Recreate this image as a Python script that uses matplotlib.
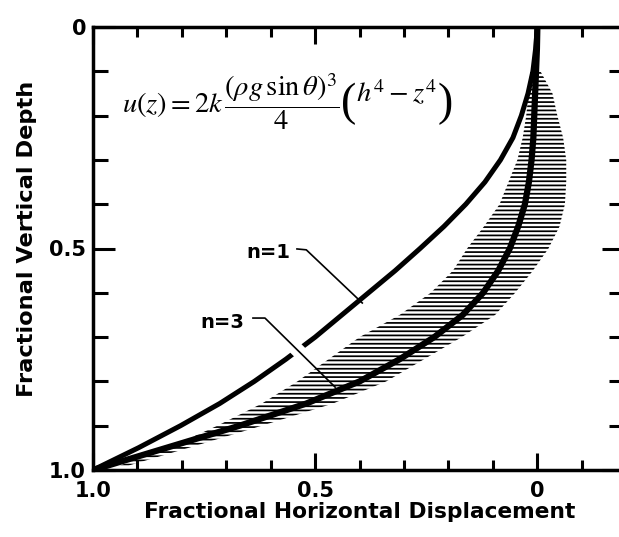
import numpy as np
import matplotlib
matplotlib.use('Agg')
import matplotlib.pyplot as plt
import matplotlib.patheffects as pe

### Velocity profiles of a glacier: fractional displacement against depth
### for flow-law exponents n=1 and n=3, with the spread of measurements hatched.

# n = 1 profile (depth, displacement)
depth_n1 = [0, 0.05, 0.10, 0.15, 0.20, 0.25, 0.30, 0.35, 0.40, 0.45, 0.50,
            0.55, 0.60, 0.65, 0.70, 0.75, 0.80, 0.85, 0.90, 0.95, 1.0]
disp_n1 = [0, 0.004, 0.010, 0.021, 0.036, 0.055, 0.083, 0.118, 0.161, 0.21, 0.264,
           0.32, 0.38, 0.44, 0.50, 0.566, 0.637, 0.715, 0.803, 0.898, 1.0]

# n = 3 profile
depth_n3 = [0, 0.05, 0.10, 0.15, 0.20, 0.25, 0.30, 0.35, 0.40, 0.45, 0.50,
            0.55, 0.60, 0.65, 0.70, 0.75, 0.80, 0.85, 0.90, 0.95, 1.0]
disp_n3 = [0, 0.001, 0.003, 0.005, 0.007, 0.009, 0.013, 0.019, 0.028, 0.043, 0.062,
           0.088, 0.122, 0.168, 0.232, 0.31, 0.40, 0.52, 0.67, 0.835, 1.0]

# measured spread around the n = 3 curve
band_depth = [0.10, 0.15, 0.20, 0.25, 0.30, 0.35, 0.40, 0.45, 0.50, 0.55,
              0.60, 0.65, 0.70, 0.75, 0.80, 0.85, 0.90, 0.95, 0.99]
band_inner = [0.016, 0.02, 0.025, 0.033, 0.045, 0.065, 0.085, 0.12, 0.158, 0.19,
              0.24, 0.31, 0.40, 0.47, 0.54, 0.62, 0.72, 0.83, 0.94]
band_outer = [-0.007, -0.034, -0.045, -0.058, -0.065, -0.065, -0.062, -0.05, -0.025, 0.01,
              0.05, 0.095, 0.17, 0.255, 0.34, 0.46, 0.62, 0.785, 0.92]

x_major = [1.0, 0.5, 0.0]
x_labels = ['1.0', '0.5', '0']
y_major = [0.0, 0.5, 1.0]
y_labels = ['0', '0.5', '1.0']
x_minor = [-0.1, 0.1, 0.2, 0.3, 0.4, 0.6, 0.7, 0.8, 0.9]
y_minor = [0.1, 0.2, 0.3, 0.4, 0.6, 0.7, 0.8, 0.9]

plt.rcParams['font.family'] = 'DejaVu Sans'
plt.rcParams['hatch.linewidth'] = 1.25

fig = plt.figure(figsize=(6.19, 5.37), dpi=100)
ax = fig.add_axes([93/619, 67/537, 531/619, 443/537])
ax.set_xlim(1.0, -0.195)
ax.set_ylim(1.0, 0.0)

ax.fill_betweenx(band_depth, band_inner, band_outer, facecolor='none',
                 edgecolor='black', hatch='----', linewidth=0, zorder=4)
ax.plot(disp_n1, depth_n1, color='black', lw=3.6, solid_capstyle='round',
        solid_joinstyle='round', zorder=2)
ax.plot(disp_n3, depth_n3, color='black', lw=4.5, solid_capstyle='round',
        solid_joinstyle='round', zorder=5)

# labels with leader lines; the n=3 leader cuts a gap in the n=1 curve
ax.text(0.606, 0.508, 'n=1', fontsize=14, fontweight='bold', ha='center', va='center')
ax.plot([0.541, 0.520, 0.394], [0.501, 0.503, 0.623], color='black', lw=1.2, zorder=3)
ax.text(0.709, 0.668, 'n=3', fontsize=14, fontweight='bold', ha='center', va='center')
ax.plot([0.640, 0.613, 0.455], [0.657, 0.657, 0.813], color='black', lw=1.2, zorder=3,
        path_effects=[pe.Stroke(linewidth=10, foreground='white'), pe.Normal()])

# flow law: fraction part, then tall brackets around (h^4 - z^4)
eq = ax.text(0.935, 0.169,
             r'$u(z) = 2k\,\dfrac{\left(\rho g\,\sin\theta\right)^3}{4}$',
             fontsize=20.5, math_fontfamily='stix', ha='left', va='center')
lpar = ax.annotate('(', xy=(1, 0.46), xycoords=eq, xytext=(1, 0),
                   textcoords='offset points', ha='left', va='center',
                   fontsize=33, family='Liberation Serif')
body = ax.annotate(r'$h^4 - z^4$', xy=(1, 0.5), xycoords=(lpar, eq), xytext=(0, 0),
                   textcoords='offset points', ha='left', va='baseline',
                   fontsize=20.5, math_fontfamily='stix')
ax.annotate(')', xy=(1, 0.5), xycoords=(body, lpar), xytext=(1, 0),
            textcoords='offset points', ha='left', va='center',
            fontsize=33, family='Liberation Serif')

ax.set_xticks(x_major)
ax.set_xticklabels(x_labels)
ax.set_yticks(y_major)
ax.set_yticklabels(y_labels)
ax.set_xticks(x_minor, minor=True)
ax.set_yticks(y_minor, minor=True)

ax.tick_params(axis='x', which='both', direction='in', top=True, bottom=True,
               width=2.2, labelsize=15, pad=8)
ax.tick_params(axis='x', which='major', length=12)
ax.tick_params(axis='x', which='minor', length=7)
ax.tick_params(axis='y', which='both', direction='in', left=True, right=True,
               width=2.2, labelsize=15, pad=5)
ax.tick_params(axis='y', which='major', length=16)
ax.tick_params(axis='y', which='minor', length=11)
for lab in ax.get_xticklabels() + ax.get_yticklabels():
    lab.set_fontweight('bold')

for side in ['left', 'top', 'bottom']:
    ax.spines[side].set_linewidth(2.5)
ax.spines['right'].set_visible(False)

ax.set_xlabel('Fractional Horizontal Displacement', fontsize=15.7, fontweight='bold')
ax.set_ylabel('Fractional Vertical Depth', fontsize=16.2, fontweight='bold')
ax.xaxis.set_label_coords(0.503, -0.072)
ax.yaxis.set_label_coords(-0.106, 0.521)

fig.savefig('out.png', dpi=100)
